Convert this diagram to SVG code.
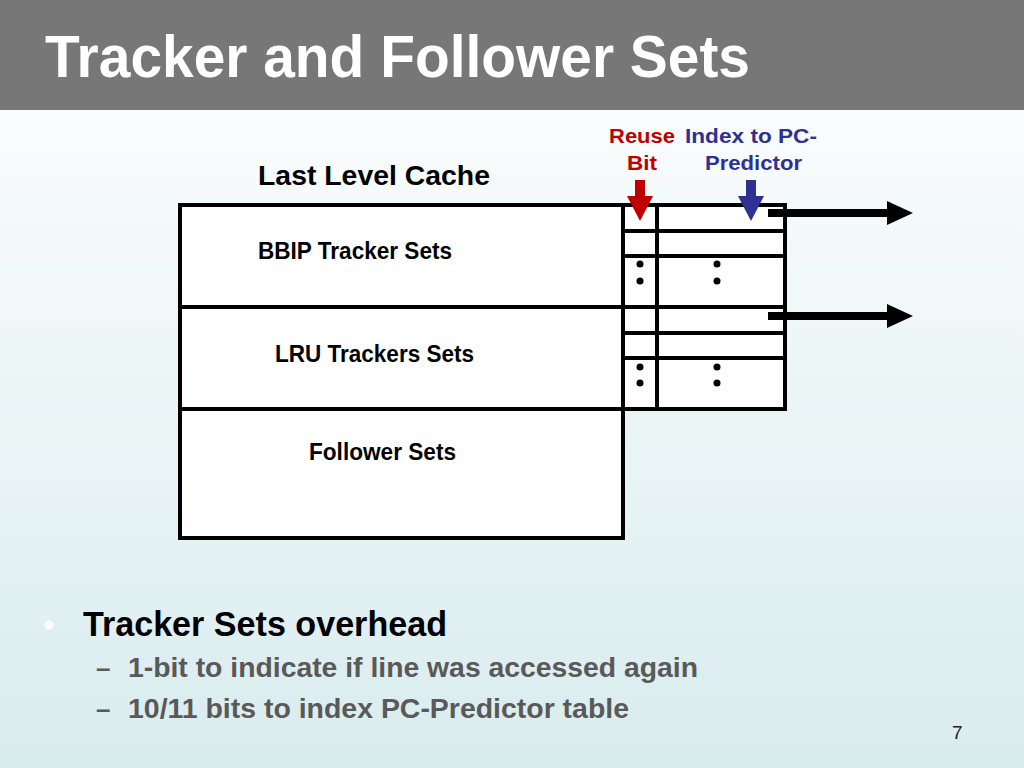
<svg xmlns="http://www.w3.org/2000/svg" width="1024" height="768" viewBox="0 0 1024 768">
<defs>
<linearGradient id="bg" x1="0" y1="0" x2="0" y2="1">
<stop offset="0" stop-color="#ffffff"/>
<stop offset="1" stop-color="#d9ecee"/>
</linearGradient>
<marker id="ah" markerUnits="userSpaceOnUse" markerWidth="28" markerHeight="26" refX="1" refY="13" orient="auto">
<path d="M0,1 L26,13 L0,25 Z" fill="#000"/>
</marker>
<marker id="ahr" markerUnits="userSpaceOnUse" markerWidth="28" markerHeight="28" refX="1" refY="13" orient="auto">
<path d="M0,0 L25,13 L0,26 Z" fill="#c00000"/>
</marker>
<marker id="ahb" markerUnits="userSpaceOnUse" markerWidth="28" markerHeight="28" refX="1" refY="13" orient="auto">
<path d="M0,0 L25,13 L0,26 Z" fill="#2e3192"/>
</marker>
</defs>
<style>
.t{font-family:"Liberation Sans",Arial,sans-serif;font-weight:bold}
.box{fill:#fff;stroke:#000;stroke-width:4}
.ln{stroke:#000;stroke-width:4;fill:none}
.lbl{font-size:23px;fill:#000}
.red{font-size:21px;fill:#c00000}
.blue{font-size:21px;fill:#2e3192}
</style>
<rect x="0" y="0" width="1024" height="768" fill="url(#bg)"/>
<rect x="0" y="0" width="1024" height="110" fill="#777777"/>
<text class="t" x="45" y="77" font-size="59" fill="#ffffff" textLength="705" lengthAdjust="spacingAndGlyphs">Tracker and Follower Sets</text>

<text class="t" x="258" y="185" font-size="28" fill="#000" textLength="232" lengthAdjust="spacingAndGlyphs">Last Level Cache</text>

<g id="cache">
<rect class="box" x="180" y="205" width="443" height="333"/>
<line class="ln" x1="180" y1="307" x2="785" y2="307"/>
<line class="ln" x1="180" y1="409" x2="785" y2="409"/>
</g>
<g id="bbip">
<text class="t lbl" x="258" y="259" textLength="194" lengthAdjust="spacingAndGlyphs">BBIP Tracker Sets</text>
</g>
<g id="lru">
<text class="t lbl" x="275" y="362" textLength="199" lengthAdjust="spacingAndGlyphs">LRU Trackers Sets</text>
</g>
<g id="follower">
<text class="t lbl" x="309" y="460" textLength="147" lengthAdjust="spacingAndGlyphs">Follower Sets</text>
</g>

<g id="table">
<rect class="box" x="623" y="205" width="162" height="204"/>
<line class="ln" x1="180" y1="307" x2="785" y2="307"/>
<line class="ln" x1="657" y1="205" x2="657" y2="409"/>
<line class="ln" x1="623" y1="231" x2="785" y2="231"/>
<line class="ln" x1="623" y1="256" x2="785" y2="256"/>
<line class="ln" x1="623" y1="333" x2="785" y2="333"/>
<line class="ln" x1="623" y1="358" x2="785" y2="358"/>
<g fill="#000">
<circle cx="640" cy="264" r="3.5"/><circle cx="640" cy="281" r="3.5"/>
<circle cx="717" cy="264" r="3.5"/><circle cx="717" cy="281" r="3.5"/>
<circle cx="640" cy="367" r="3.5"/><circle cx="640" cy="383" r="3.5"/>
<circle cx="717" cy="367" r="3.5"/><circle cx="717" cy="383" r="3.5"/>
</g>
</g>

<g id="reuse">
<text class="t red" x="609" y="143" textLength="66" lengthAdjust="spacingAndGlyphs">Reuse</text>
<text class="t red" x="627" y="170" textLength="30" lengthAdjust="spacingAndGlyphs">Bit</text>
</g>
<g id="index">
<text class="t blue" x="685" y="143" textLength="132" lengthAdjust="spacingAndGlyphs">Index to PC-</text>
<text class="t blue" x="705" y="170" textLength="97" lengthAdjust="spacingAndGlyphs">Predictor</text>
</g>

<g id="connectors">
<line x1="640" y1="180" x2="640" y2="197" stroke="#c00000" stroke-width="10" marker-end="url(#ahr)"/>
<line x1="751" y1="180" x2="751" y2="197" stroke="#2e3192" stroke-width="10" marker-end="url(#ahb)"/>
<line x1="768" y1="213" x2="888" y2="213" stroke="#000" stroke-width="8" marker-end="url(#ah)"/>
<line x1="768" y1="316" x2="888" y2="316" stroke="#000" stroke-width="8" marker-end="url(#ah)"/>
</g>

<g id="bullets">
<circle cx="49" cy="625" r="4.5" fill="#ffffff"/>
<text class="t" x="83" y="636" font-size="35" fill="#000" textLength="364" lengthAdjust="spacingAndGlyphs">Tracker Sets overhead</text>
<text class="t" x="96" y="677" font-size="26" fill="#595959">–</text>
<text class="t" x="128" y="677" font-size="27" fill="#595959" textLength="570" lengthAdjust="spacingAndGlyphs">1-bit to indicate if line was accessed again</text>
<text class="t" x="96" y="718" font-size="26" fill="#595959">–</text>
<text class="t" x="128" y="718" font-size="27" fill="#595959" textLength="501" lengthAdjust="spacingAndGlyphs">10/11 bits to index PC-Predictor table</text>
</g>
<text x="952" y="739" font-family="Liberation Sans, Arial, sans-serif" font-size="19" fill="#222">7</text>
</svg>
